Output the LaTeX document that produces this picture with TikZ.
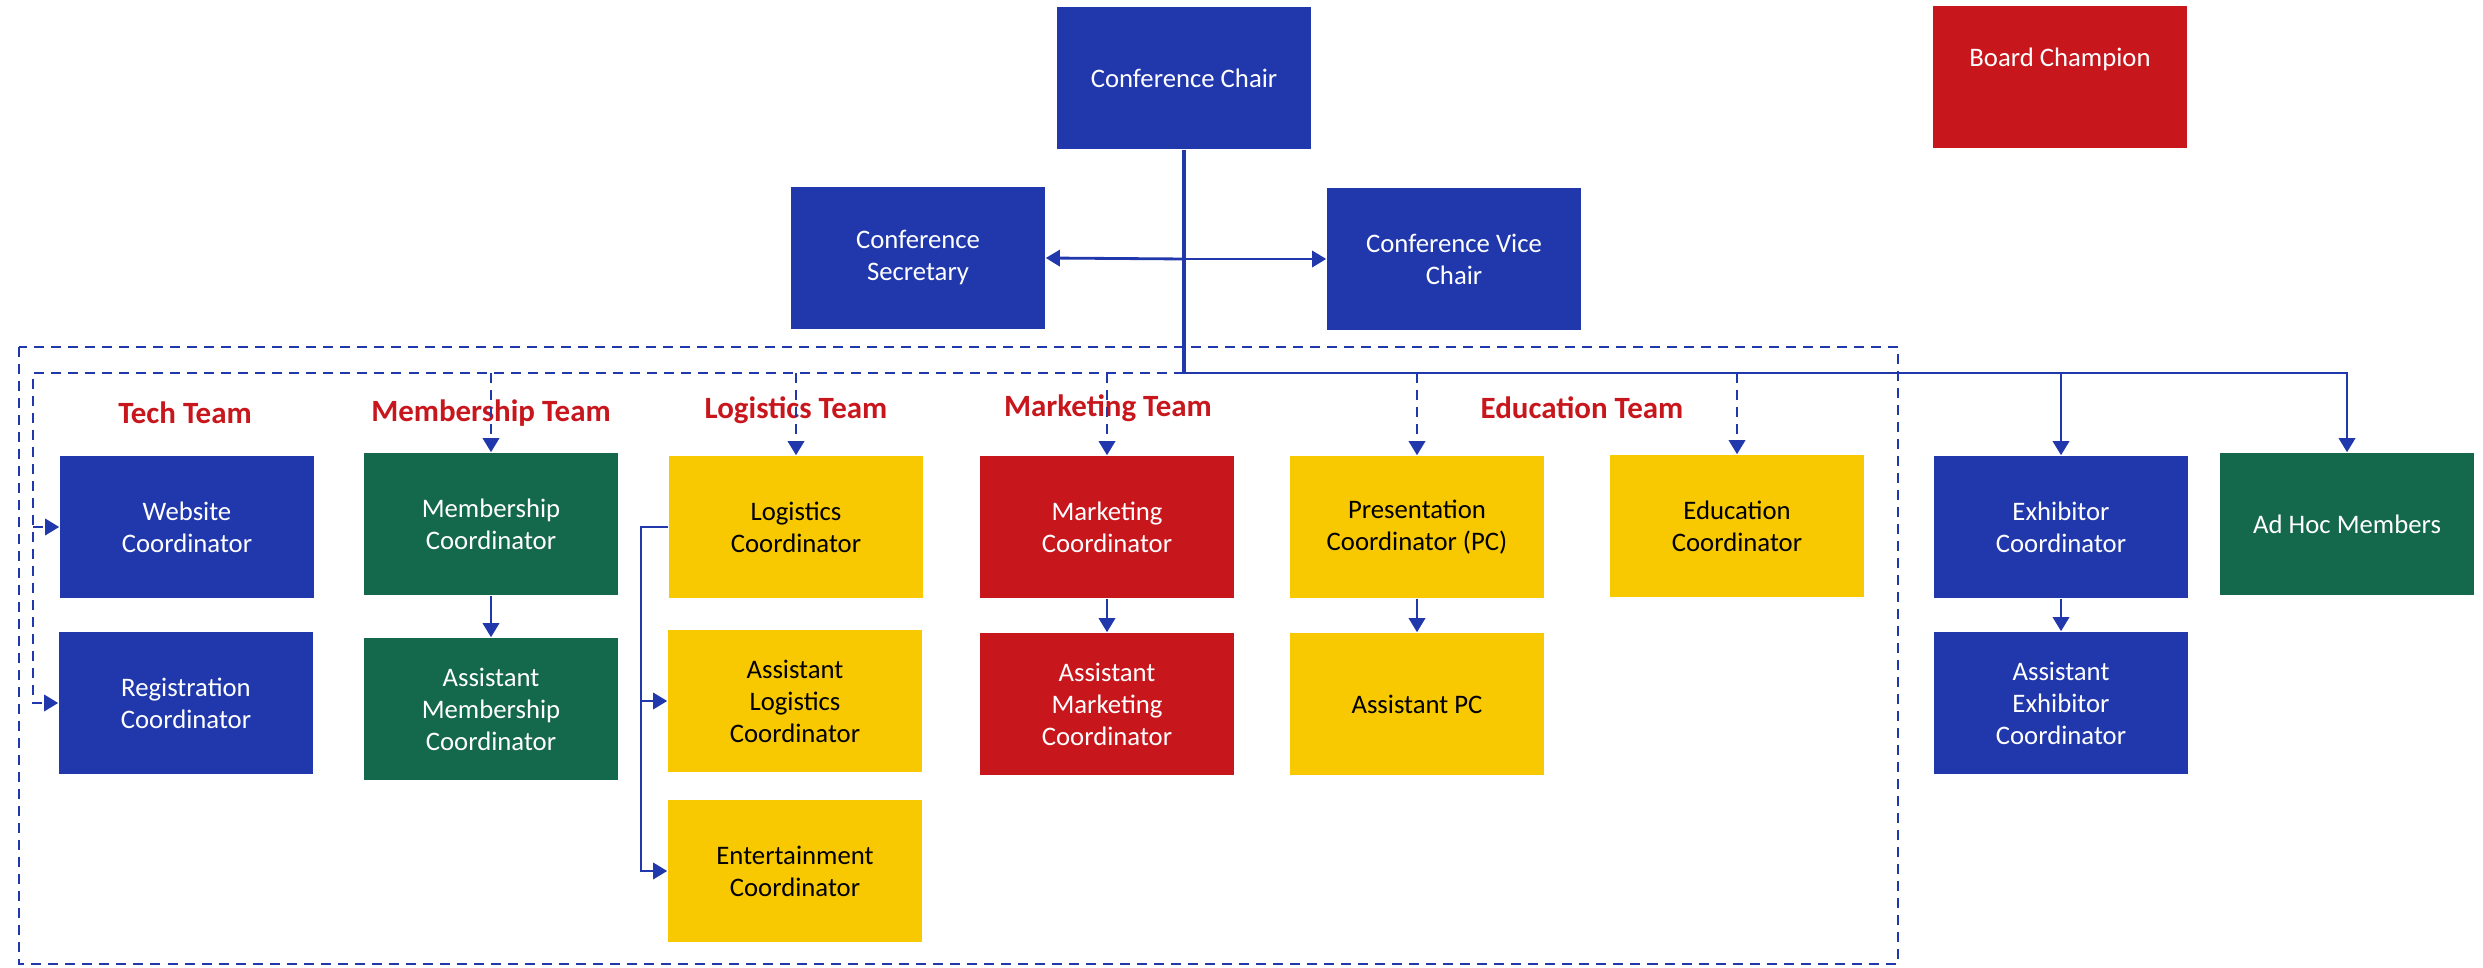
\documentclass[tikz,border=0pt]{standalone}
\usepackage{fontspec}
\setmainfont{Carlito}
\usetikzlibrary{arrows.meta}
\definecolor{orgblue}{HTML}{2038AC}
\definecolor{orggreen}{HTML}{14694C}
\definecolor{orgred}{HTML}{C8161D}
\definecolor{orgyellow}{HTML}{F8C800}

\begin{document}
\begin{tikzpicture}[x=0.01cm, y=-0.01cm,
   role/.style={rectangle, minimum width=2.54cm, minimum height=1.42cm, inner sep=0pt, align=center, font=\fontsize{7.6}{9.1}\selectfont},
   bluerole/.style={role, fill=orgblue, text=white},
   greenrole/.style={role, fill=orggreen, text=white},
   redrole/.style={role, fill=orgred, text=white},
   yellowrole/.style={role, fill=orgyellow, text=black},
   team/.style={text=orgred, font=\bfseries\fontsize{8.8}{10}\selectfont},
   link/.style={draw=orgblue, line width=0.8pt, -{Triangle[length=4pt,width=4.6pt]}},
   dashlink/.style={link, dash pattern=on 0.1cm off 0.07cm},
   frame/.style={draw=orgblue, line width=0.8pt, dash pattern=on 0.1cm off 0.07cm}]

\useasboundingbox (0,0) rectangle (2483,968);

\draw[frame] (19,347) rectangle (1898,964);

\node[bluerole] (chair) at (1184,78) {Conference Chair};
\node[redrole, text depth=0.4cm] (board) at (2060,77) {Board Champion};
\node[bluerole] (secretary) at (918,258) {Conference\\Secretary};
\node[bluerole] (vice) at (1454,259) {Conference Vice\\Chair};

\node[team] (techlbl) at (185,413) {Tech Team};
\node[team] (memberlbl) at (491,413) {Membership Team};
\node[team] (logisticslbl) at (796,410) {Logistics Team};
\node[team] (marketinglbl) at (1108,408) {Marketing Team};
\node[team] (educationlbl) at (1582,408) {Education Team};

\node[bluerole] (website) at (187,527) {Website\\Coordinator};
\node[bluerole] (registration) at (186,703) {Registration\\Coordinator};
\node[greenrole] (membership) at (491,524) {Membership\\Coordinator};
\node[greenrole] (asstmember) at (491,709) {Assistant\\Membership\\Coordinator};
\node[yellowrole] (logistics) at (796,527) {Logistics\\Coordinator};
\node[yellowrole] (asstlogistics) at (795,701) {Assistant\\Logistics\\Coordinator};
\node[yellowrole] (entertainment) at (795,871) {Entertainment\\Coordinator};
\node[redrole] (marketing) at (1107,527) {Marketing\\Coordinator};
\node[redrole] (asstmarketing) at (1107,704) {Assistant\\Marketing\\Coordinator};
\node[yellowrole] (presentation) at (1417,527) {Presentation\\Coordinator (PC)};
\node[yellowrole] (asstpc) at (1417,704) {Assistant PC};
\node[yellowrole] (education) at (1737,526) {Education\\Coordinator};
\node[bluerole] (exhibitor) at (2061,527) {Exhibitor\\Coordinator};
\node[bluerole] (asstexhibitor) at (2061,703) {Assistant\\Exhibitor\\Coordinator};
\node[greenrole] (adhoc) at (2347,524) {Ad Hoc Members};

\coordinate (hub) at (1184,259);
\coordinate (bus) at (1184,373);
\coordinate (corner) at (33,373);
\coordinate (spine) at (641,527);

\draw[orgblue, line width=1.3pt] (chair.south) -- (bus);
\draw[link] (hub) -- (secretary.east);
\draw[link] (hub) -- (vice.west);
\draw[link] (bus) -| (adhoc.north);
\draw[link] (bus -| exhibitor) -- (exhibitor.north);

\draw[dashlink] (bus) -- (corner) |- (registration.west);
\draw[dashlink] (corner |- website) -- (website.west);
\foreach \n in {membership,logistics,marketing,presentation,education}
       \draw[dashlink] (bus -| \n) -- (\n.north);

\foreach \a/\b in {membership/asstmember,marketing/asstmarketing,presentation/asstpc,exhibitor/asstexhibitor}
       \draw[link] (\a.south) -- (\b.north);

\draw[link] (logistics.west) -- (spine) |- (entertainment.west);
\draw[link] (spine) |- (asstlogistics.west);
\end{tikzpicture}
\end{document}
